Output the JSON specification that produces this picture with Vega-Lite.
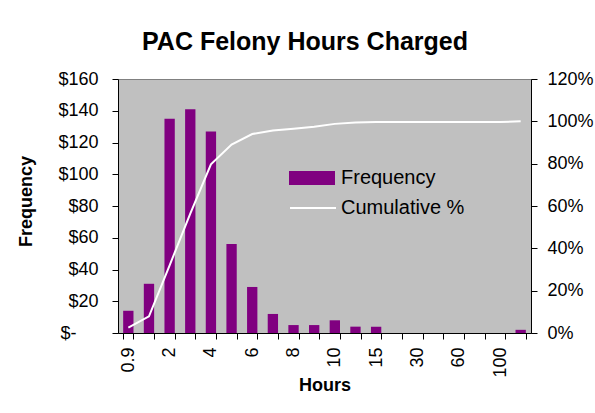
{
  "$schema": "https://vega.github.io/schema/vega-lite/v6.json",
  "autosize": "none",
  "width": 413,
  "height": 254,
  "padding": {"left": 118, "top": 79, "right": 64, "bottom": 80},
  "background": "white",
  "title": {
    "text": "PAC Felony Hours Charged",
    "font": "Liberation Sans",
    "fontSize": 25,
    "fontWeight": "bold",
    "color": "black",
    "anchor": "middle",
    "frame": "bounds",
    "offset": 15
  },
  "config": {
    "view": {"fill": "#C0C0C0", "stroke": "#808080", "strokeWidth": 1},
    "axis": {
      "labelFont": "Liberation Sans",
      "labelFontSize": 18,
      "labelColor": "black",
      "titleFont": "Liberation Sans",
      "titleFontSize": 18,
      "titleFontWeight": "bold",
      "titleColor": "black",
      "domainColor": "black",
      "tickColor": "black",
      "grid": false
    },
    "legend": {
      "labelFont": "Liberation Sans",
      "labelFontSize": 20,
      "labelColor": "black"
    }
  },
  "data": {
    "values": [
      {"bin": "0.9", "frequency": 14, "cumulative": 0.025},
      {"bin": "1", "frequency": 31, "cumulative": 0.079},
      {"bin": "2", "frequency": 135, "cumulative": 0.32},
      {"bin": "3", "frequency": 141, "cumulative": 0.564},
      {"bin": "4", "frequency": 127, "cumulative": 0.797},
      {"bin": "5", "frequency": 56, "cumulative": 0.89},
      {"bin": "6", "frequency": 29, "cumulative": 0.94},
      {"bin": "7", "frequency": 12, "cumulative": 0.957},
      {"bin": "8", "frequency": 5, "cumulative": 0.965},
      {"bin": "9", "frequency": 5, "cumulative": 0.974},
      {"bin": "10", "frequency": 8, "cumulative": 0.988},
      {"bin": "12", "frequency": 4, "cumulative": 0.995},
      {"bin": "15", "frequency": 4, "cumulative": 0.997},
      {"bin": "20", "frequency": 0, "cumulative": 0.997},
      {"bin": "30", "frequency": 0, "cumulative": 0.997},
      {"bin": "45", "frequency": 0, "cumulative": 0.997},
      {"bin": "60", "frequency": 0, "cumulative": 0.997},
      {"bin": "80", "frequency": 0, "cumulative": 0.997},
      {"bin": "100", "frequency": 0, "cumulative": 0.997},
      {"bin": "More", "frequency": 2, "cumulative": 1.0}
    ]
  },
  "encoding": {
    "x": {
      "field": "bin",
      "type": "ordinal",
      "sort": null,
      "scale": {"paddingInner": 0.5, "paddingOuter": 0.25},
      "axis": {
        "title": "Hours",
        "labelAngle": -90,
        "labelAlign": "right",
        "labelBaseline": "middle",
        "labelPadding": 8,
        "tickSize": 6,
        "tickBand": "extent",
        "labelExpr": "indexof(['0.9','2','4','6','8','10','15','30','60','100'], datum.value) >= 0 ? datum.label : ''",
        "titleY": 57,
        "titleBaseline": "alphabetic"
      }
    }
  },
  "layer": [
    {
      "mark": {"type": "bar", "stroke": null},
      "encoding": {
        "y": {
          "field": "frequency",
          "type": "quantitative",
          "scale": {"domain": [0, 160], "nice": false},
          "axis": {
            "title": "Frequency",
            "values": [0, 20, 40, 60, 80, 100, 120, 140, 160],
            "labelExpr": "datum.value === 0 ? '$-' : '$' + datum.value",
            "tickSize": 6,
            "labelPadding": {"condition": {"test": "datum.value === 0", "value": 36}, "value": 14},
            "titleX": -92,
            "titleY": 122,
            "titleBaseline": "middle",
            "titleAngle": -90
          }
        },
        "fill": {
          "datum": "Frequency",
          "scale": {"range": ["#800080"]},
          "legend": {
            "title": null,
            "orient": "none",
            "legendX": 171,
            "legendY": 76,
            "padding": 0,
            "symbolType": "M-1,-0.3H1V0.3H-1Z",
            "symbolSize": 2116,
            "symbolStrokeWidth": 0,
            "labelOffset": 6
          }
        }
      }
    },
    {
      "mark": {"type": "line", "strokeWidth": 2},
      "encoding": {
        "y": {
          "field": "cumulative",
          "type": "quantitative",
          "scale": {"domain": [0, 1.2], "nice": false},
          "axis": {
            "title": null,
            "orient": "right",
            "format": ".0%",
            "values": [0, 0.2, 0.4, 0.6, 0.8, 1.0, 1.2],
            "tickSize": 6,
            "labelPadding": 10
          }
        },
        "stroke": {
          "datum": "Cumulative %",
          "scale": {"range": ["white"]},
          "legend": {
            "title": null,
            "orient": "none",
            "legendX": 171,
            "legendY": 105,
            "padding": 0,
            "symbolType": "stroke",
            "symbolSize": 2116,
            "symbolStrokeWidth": 2,
            "labelOffset": 4
          }
        }
      }
    }
  ],
  "resolve": {"scale": {"y": "independent"}}
}
